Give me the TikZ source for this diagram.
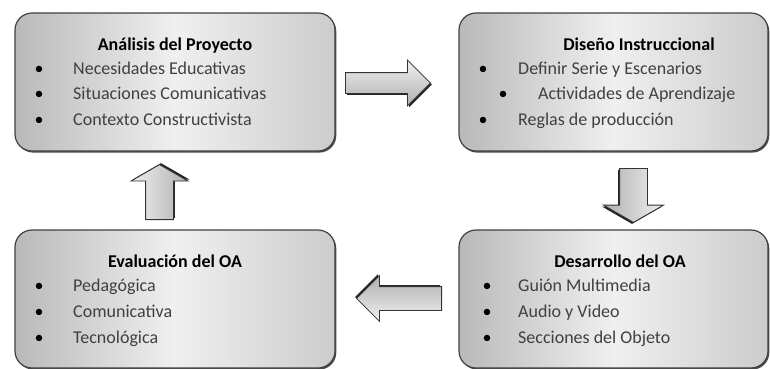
\documentclass[tikz,border=0pt]{standalone}
\usepackage{fontspec}
\setmainfont{Carlito}
\usetikzlibrary{shapes.arrows,shadows}

\begin{document}
\begin{tikzpicture}[
  x=1pt, y=-1pt,
  % --- node styles ---
  phase/.style={draw=black!75, line width=1.2pt, rounded corners=17pt,
                left color=gray!55, right color=gray!40, middle color=gray!12,
                minimum width=#1, minimum height=138pt, inner sep=0pt,
                drop shadow={shadow xshift=1.3pt, shadow yshift=-1.6pt,
                             fill=black!70, opacity=1}},
  ttl/.style={font=\fontsize{18}{22}\selectfont\bfseries, anchor=base,
              inner sep=0pt},
  itm/.style={font=\fontsize{18}{22}\selectfont, text=black!75,
              anchor=base west, inner sep=0pt},
  bul/.style={font=\fontsize{18}{22}\selectfont, anchor=base, inner sep=0pt},
  blk/.style={single arrow, draw=black!80, line width=0.8pt,
              inner sep=#1, anchor=tail},
]
  % --- Page frame ---
  \useasboundingbox (0,0) rectangle (770,368);

  % --- Phase boxes ---
  \node[phase=320pt] (analisis)   at (175,82)    {};
  \node[phase=309pt] (diseno)     at (613.5,82)  {};
  \node[phase=320pt] (evaluacion) at (175,299)   {};
  \node[phase=309pt] (desarrollo) at (613.5,299) {};

  % --- Block arrows between phases ---
  % analisis -> diseno
  \node[blk=10pt, minimum height=85pt,
        single arrow head extend=12.5pt, single arrow tip angle=90,
        top color=gray!12, bottom color=gray!62,
        drop shadow={shadow xshift=1.5pt, shadow yshift=-1.5pt,
                     fill=black!85, opacity=1}]
    (arrAD) at (345,83) {};
  % diseno -> desarrollo
  \node[blk=13.5pt, shape border rotate=270, minimum height=54pt,
        single arrow head extend=16pt, single arrow tip angle=120,
        right color=gray!12, left color=gray!62,
        drop shadow={shadow xshift=-1.5pt, shadow yshift=-1.5pt,
                     fill=black!85, opacity=1}]
    (arrDS) at (633.5,168) {};
  % desarrollo -> evaluacion
  \node[blk=11.5pt, shape border rotate=180, minimum height=85pt,
        single arrow head extend=11pt, single arrow tip angle=90,
        bottom color=gray!12, top color=gray!62,
        drop shadow={shadow xshift=-1.5pt, shadow yshift=1.5pt,
                     fill=black!85, opacity=1}]
    (arrSE) at (442,298.5) {};
  % evaluacion -> analisis
  \node[blk=13.5pt, shape border rotate=90, minimum height=55pt,
        single arrow head extend=14.5pt, single arrow tip angle=120,
        left color=gray!12, right color=gray!62,
        drop shadow={shadow xshift=1.5pt, shadow yshift=1.5pt,
                     fill=black!85, opacity=1}]
    (arrEA) at (159.5,220) {};

  % --- Analisis del Proyecto ---
  \node[ttl] (tA) at (175,50) {Análisis del Proyecto};
  \node[bul] (bA1) at (39,74)   {•};
  \node[bul] (bA2) at (39,99.5) {•};
  \node[bul] (bA3) at (39,125)  {•};
  \node[itm] (iA1) at (73,74)   {Necesidades Educativas};
  \node[itm] (iA2) at (73,99.5) {Situaciones Comunicativas};
  \node[itm] (iA3) at (73,125)  {Contexto Constructivista};

  % --- Diseno Instruccional ---
  \node[ttl] (tD) at (639,50) {Diseño Instruccional};
  \node[bul] (bD1) at (483,74)   {•};
  \node[bul] (bD2) at (503,99.5) {•};
  \node[bul] (bD3) at (483,125)  {•};
  \node[itm] (iD1) at (518,74)   {Definir Serie y Escenarios};
  \node[itm] (iD2) at (538,99.5) {Actividades de Aprendizaje};
  \node[itm] (iD3) at (518,125)  {Reglas de producción};

  % --- Desarrollo del OA ---
  \node[ttl] (tS) at (620,267) {Desarrollo del OA};
  \node[bul] (bS1) at (487,291) {•};
  \node[bul] (bS2) at (487,317) {•};
  \node[bul] (bS3) at (487,343) {•};
  \node[itm] (iS1) at (518,291) {Guión Multimedia};
  \node[itm] (iS2) at (518,317) {Audio y Video};
  \node[itm] (iS3) at (518,343) {Secciones del Objeto};

  % --- Evaluacion del OA ---
  \node[ttl] (tE) at (175,267) {Evaluación del OA};
  \node[bul] (bE1) at (39,291) {•};
  \node[bul] (bE2) at (39,317) {•};
  \node[bul] (bE3) at (39,343) {•};
  \node[itm] (iE1) at (73,291) {Pedagógica};
  \node[itm] (iE2) at (73,317) {Comunicativa};
  \node[itm] (iE3) at (73,343) {Tecnológica};
\end{tikzpicture}
\end{document}
